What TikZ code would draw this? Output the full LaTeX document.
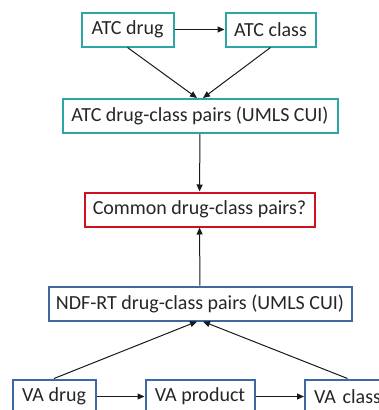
\documentclass[tikz,border=0pt]{standalone}
\usepackage{fontspec}
\setmainfont{Carlito}
\usetikzlibrary{arrows.meta}
\definecolor{teal1}{HTML}{2CA5A5}
\definecolor{red1}{HTML}{D0101C}
\definecolor{blue1}{HTML}{4068A0}
\definecolor{txt}{HTML}{262626}
\begin{document}
\begin{tikzpicture}[x=1pt,y=-1pt,
  box/.style={draw, line width=2pt, fill=white, minimum height=34pt, inner sep=0pt, text=txt, font=\fontsize{20}{22}\selectfont},
  tbox/.style={box, draw=teal1},
  rbox/.style={box, draw=red1},
  bbox/.style={box, draw=blue1},
  arr/.style={-{Triangle[length=7pt,width=6pt]}, line width=1pt, draw=black!90}]
\useasboundingbox (0,0) rectangle (379,410);
\begin{scope}
\clip (0,0) rectangle (379,410);
\node[tbox, minimum width=92pt] (atcdrug) at (127.5,29.5) {ATC drug};
\node[tbox, minimum width=90pt] (atcclass) at (270.5,29.5) {ATC class};
\node[tbox, minimum width=275pt] (atcpairs) at (200,116) {ATC drug-class pairs (UMLS CUI)};
\node[rbox, minimum width=230pt] (common) at (199.5,209.5) {Common drug-class pairs?};
\node[bbox, minimum width=303pt] (ndf) at (200,303.5) {NDF-RT drug-class pairs (UMLS CUI)};
\node[bbox, minimum width=83pt] (vadrug) at (54,396.5) {VA drug};
\node[bbox, minimum width=109pt] (vaproduct) at (200,396.5) {VA product};
\node[bbox, minimum width=85pt, text width=85pt, align=left, inner xsep=0pt] (vaclass) at (347.5,396.5) {\hspace*{9pt}VA class};
\draw[arr] (atcdrug) -- (atcclass);
\draw[arr] (atcdrug.south) -- ([xshift=-3pt]atcpairs.north);
\draw[arr] (atcclass.south) -- ([xshift=3pt]atcpairs.north);
\draw[arr] (atcpairs) -- (common);
\draw[arr] (ndf) -- (common);
\draw[arr] (vadrug.north) -- ([xshift=-3pt]ndf.south);
\draw[arr] (vaclass.north) -- ([xshift=3pt]ndf.south);
\draw[arr] (vadrug) -- (vaproduct);
\draw[arr] (vaproduct) -- (vaclass);
\end{scope}
\end{tikzpicture}
\end{document}
